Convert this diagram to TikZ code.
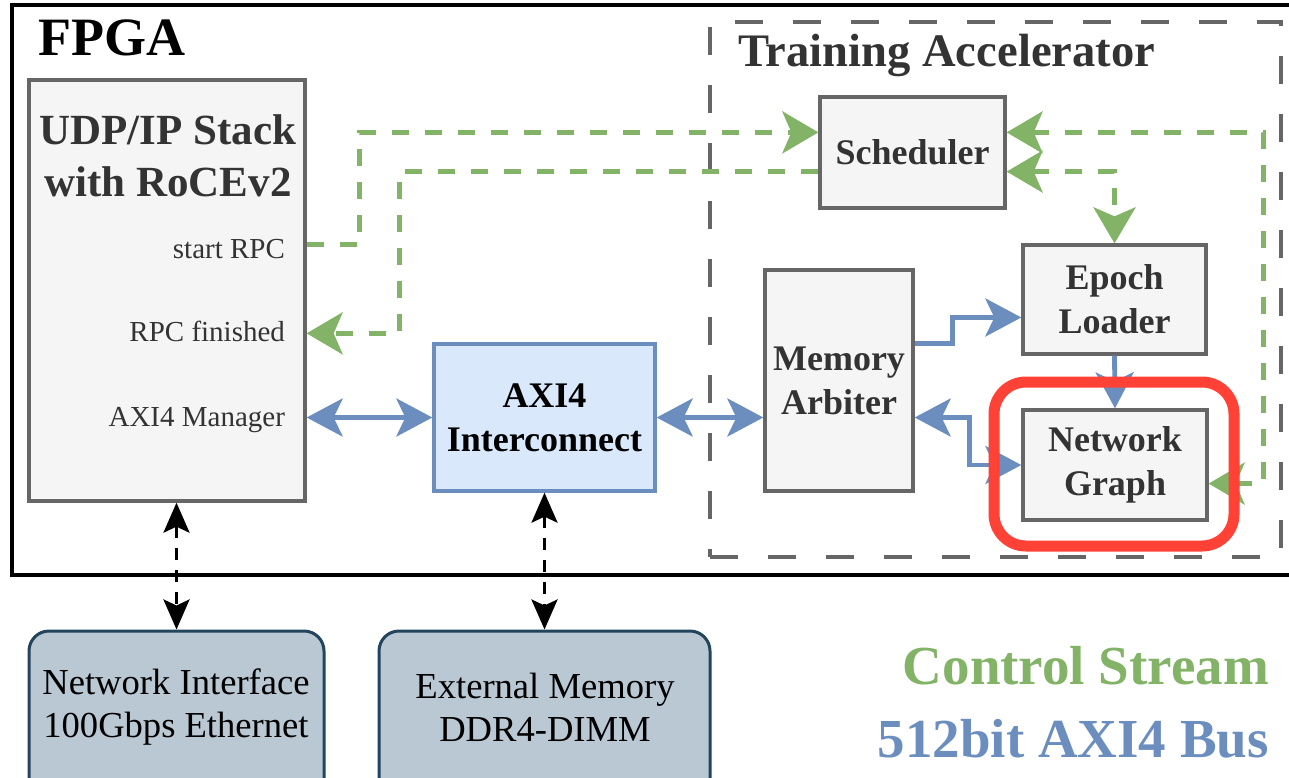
\documentclass[tikz,border=0pt]{standalone}
\usepackage{fontspec}
\setmainfont{Liberation Serif}
\usetikzlibrary{arrows.meta,calc}

\definecolor{ctrl}{HTML}{82B366}
\definecolor{bus}{HTML}{6C8EBF}
\definecolor{edgegray}{HTML}{666666}
\definecolor{boxfill}{HTML}{F5F5F5}
\definecolor{icfill}{HTML}{DAE8FC}
\definecolor{extfill}{HTML}{BAC8D3}
\definecolor{extedge}{HTML}{23445D}
\definecolor{hlred}{HTML}{FF4136}
\definecolor{txt}{HTML}{333333}

\begin{document}
\begin{tikzpicture}[x=0.5pt,y=-0.5pt,
  block/.style={draw=edgegray, fill=boxfill, line width=1.65pt, inner sep=0pt,
    text=txt, align=center, font=\bfseries\fontsize{18}{22}\selectfont},
  icblock/.style={block, draw=bus, fill=icfill, text=black},
  extblock/.style={draw=extedge, fill=extfill, line width=1.5pt, inner sep=0pt,
    rounded corners=10pt},
  exttext/.style={align=center, text=black, font=\fontsize{18.3}{21.5}\selectfont},
  portlabel/.style={anchor=base east, text=txt, font=\fontsize{14.5}{17}\selectfont},
  size/.style 2 args={minimum width=#1, minimum height=#2},
  bus line/.style={draw=bus, line width=2.4pt,
    >={Stealth[length=18pt,width=19pt,inset=4.5pt]}},
  ctrl line/.style={draw=ctrl, line width=2.3pt, dash pattern=on 8.5pt off 8pt,
    >={Stealth[length=18pt,width=21pt,inset=4.5pt]}},
  link line/.style={draw=black, line width=1.6pt, dash pattern=on 6pt off 5pt,
    >={Stealth[length=15pt,width=13pt,inset=3pt]}},
]
\useasboundingbox (0,0) rectangle (1289,777);
\clip (0,0) rectangle (1289,777);
\fill[white] (0,0) rectangle (1289,777);

% FPGA frame and accelerator region
\node[draw=black, line width=1.75pt, inner sep=0pt, size={644pt}{285pt}] (fpga) at (656,290) {};
\node[anchor=base west, font=\bfseries\fontsize{27}{30}\selectfont] (fpgaTitle) at (31,55) {FPGA};
\node[draw=edgegray, line width=2pt, dash pattern=on 14pt off 15pt, inner sep=0pt,
  size={285.5pt}{267.5pt}] (acc) at (995.5,289.5) {};
\node[anchor=base west, text=txt, font=\bfseries\fontsize{23.3}{26}\selectfont] (accTitle)
  at (731,66) {Training Accelerator};

% Network stack
\node[block, size={138pt}{210.5pt}] (udp) at (167,290.5) {};
\node[text=txt, align=center, font=\bfseries\fontsize{21.5}{26}\selectfont] (udpTitle)
  at (168,156) {UDP/IP Stack\\with RoCEv2};
\node[portlabel] (lblStart) at (292,258) {start RPC};
\node[portlabel] (lblDone) at (292,341) {RPC finished};
\node[portlabel] (lblMgr) at (292,426) {AXI4 Manager};

% Interconnect and accelerator blocks
\node[icblock, size={110.5pt}{73.5pt}] (axi) at (544.5,417.5) {AXI4\\Interconnect};
\node[block, size={92.5pt}{55.5pt}] (sch) at (912.5,152.5) {Scheduler};
\node[block, size={74pt}{110.5pt}] (arb) at (839,380.5) {Memory\\Arbiter};
\node[block, size={91.5pt}{54.5pt}] (epoch) at (1114.5,299.5) {Epoch\\Loader};
\node[block, size={92pt}{55pt}] (ng) at (1115,465) {Network\\Graph};

% Off-chip components
\node[extblock, size={147.5pt}{89.5pt}] (nic) at (176.5,720.5) {};
\node[exttext] (nicText) at (176,707) {Network Interface\\100Gbps Ethernet};
\node[extblock, size={165.5pt}{89.5pt}] (mem) at (544.5,720.5) {};
\node[exttext] (memText) at (545,707) {External Memory\\DDR4-DIMM};

% Legend
\node[anchor=base east, text=ctrl, font=\bfseries\fontsize{27.5}{30}\selectfont] (legCtrl)
  at (1276,684) {Control Stream};
\node[anchor=base east, text=bus, font=\bfseries\fontsize{27.5}{30}\selectfont] (legBus)
  at (1276,757) {512bit AXI4 Bus};

% Port positions on the block edges
\coordinate (udpStart) at ($(udp.north east)!0.392!(udp.south east)$);
\coordinate (udpDone) at ($(udp.north east)!0.601!(udp.south east)$);
\coordinate (schL1) at ($(sch.north west)!0.324!(sch.south west)$);
\coordinate (schL2) at ($(sch.north west)!0.667!(sch.south west)$);
\coordinate (schR1) at ($(sch.north east)!0.324!(sch.south east)$);
\coordinate (schR2) at ($(sch.north east)!0.667!(sch.south east)$);
\coordinate (arbUp) at ($(arb.north east)!0.335!(arb.south east)$);
\coordinate (epochIn) at ($(epoch.north west)!0.66!(epoch.south west)$);
\coordinate (ngR) at ($(ng.north east)!0.664!(ng.south east)$);

% Off-chip links
\draw[link line,<->] (udp.south -| nic.north) -- (nic.north);
\draw[link line,<->] (axi.south) -- (axi.south |- mem.north);

% AXI4 data paths
\draw[bus line,<->] (axi.west -| udp.east) -- (axi.west);
\draw[bus line,<->] (axi.east) -- (axi.east -| arb.west);
\draw[bus line,->] (arbUp) -- ++(38,0) |- (epochIn);
\draw[bus line,<->] (arb.east |- axi.east) -- ++(55,0) |- (ng.west);
\draw[bus line,->] (epoch.south) -- (ng.north);

% Control stream
\draw[ctrl line,->] (udpStart) -- ++(53,0) |- (schL1);
\draw[ctrl line,->] (schL2) -| ($(udpDone)+(93,0)$) -- (udpDone);
\draw[ctrl line,<->] (schR1) -| ($(ngR)+(55,0)$) -- (ngR);
\draw[ctrl line,<->] (schR2) -| (epoch.north);

% Highlight around the network graph
\node[draw=hlred, line width=5.5pt, rounded corners=16pt, inner sep=0pt,
  size={120pt}{82pt}] (hl) at (1114,464) {};
\end{tikzpicture}
\end{document}
